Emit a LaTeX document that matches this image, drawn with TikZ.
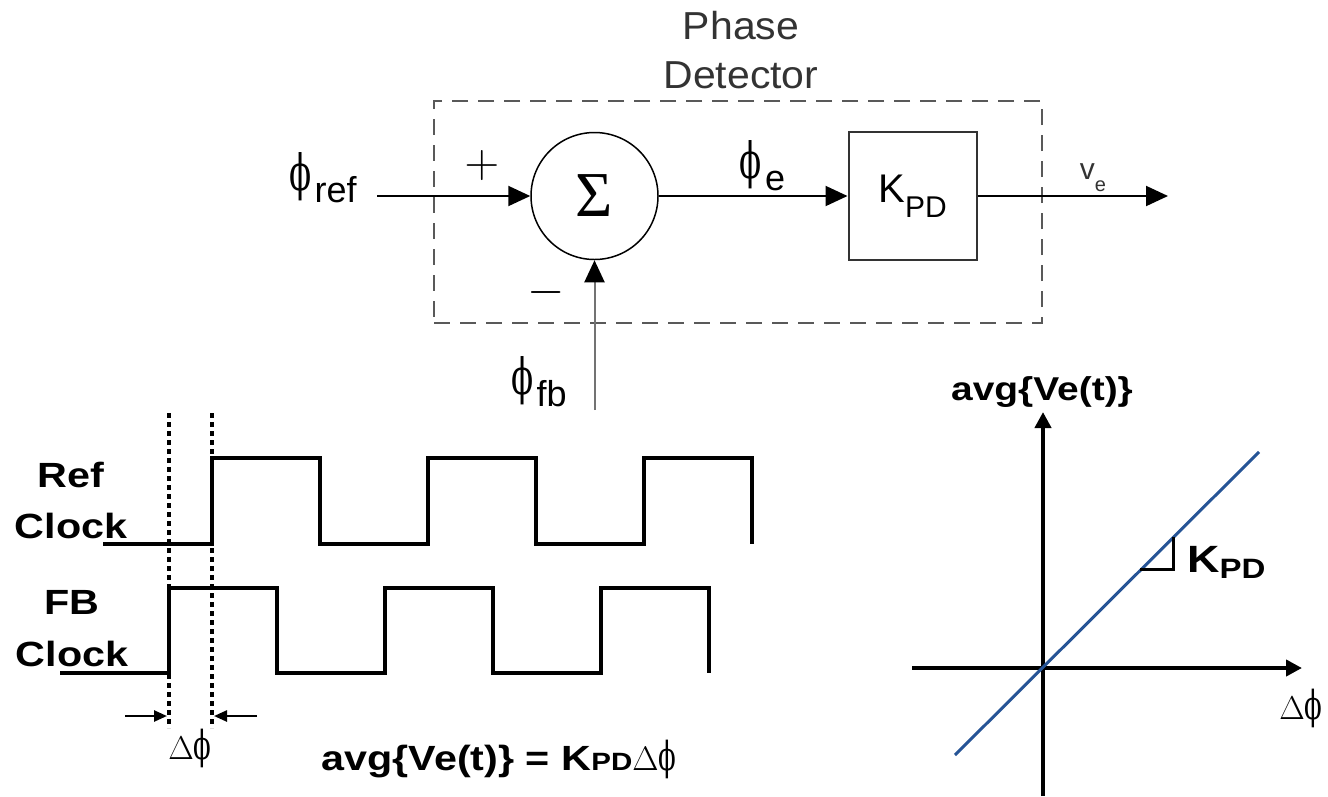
\RequirePackage{fix-cm}
\documentclass[tikz,border=0pt]{standalone}
\usepackage{fontspec}
\usepackage{amsmath}
\setmainfont{Liberation Sans}
\newfontfamily\serifsym{Liberation Serif}
\newfontfamily\phifont{DejaVu Serif}
\newfontfamily\titlesans{Liberation Sans}[FakeStretch=1.05]
\newfontfamily\widesans{Liberation Sans}[FakeStretch=1.18]
\usetikzlibrary{arrows.meta,positioning}
\definecolor{slopeblue}{RGB}{38,84,150}

\newcommand{\fsz}[1]{\fontsize{#1}{#1}\selectfont}
\newcommand{\nphi}{\scalebox{0.65}[1]{\phifont ϕ}}
\newcommand{\phisub}[1]{{\fsz{50}\nphi}\kern3pt\raisebox{-12pt}{\fsz{36}#1}}

\begin{document}
\begin{tikzpicture}[x=1pt, y=-1pt,
    sig/.style={line width=2pt, -{Triangle[length=22pt,width=20pt]}},
    wave/.style={line width=4pt},
    dotline/.style={line width=3.5pt, dash pattern=on 5pt off 4pt},
    axis/.style={line width=4pt, -{Triangle[length=16pt,width=16pt]}},
    tag/.style={inner sep=0pt},
    boldtxt/.style={inner sep=0pt, font=\widesans\bfseries\fsz{33}}
]
    \useasboundingbox (0,0) rectangle (1328,796);

    % Phase detector block
    \node[draw=black!65, line width=2pt, dash pattern=on 16pt off 10pt,
          minimum width=608pt, minimum height=222pt] (pdbox) at (738,212) {};
    \node[tag, align=center, text=black!80, anchor=north,
          font=\titlesans\fontsize{39}{49}\selectfont] (pdtitle) at (741,11) {Phase\\Detector};
    \node[circle, draw, line width=1.5pt, minimum size=127pt, inner sep=0pt,
          font=\serifsym\fsz{64}] (sum) at (594.5,196) {Σ};
    \node[draw=black!80, line width=2pt, minimum size=128pt, inner sep=0pt]
          (kpd) at (912.5,196) {\fsz{40}K\raisebox{-15pt}{\fsz{30}PD}};

    % signals in and out
    \coordinate (refin) at (377,196);
    \coordinate (fbin) at (594.5,410);
    \coordinate (veout) at (1168,196);
    \draw[sig] (refin) -- (sum);
    \draw[sig, draw=black!55, -{Triangle[length=22pt,width=20pt,black]}] (fbin) -- (sum);
    \draw[sig] (sum) -- (kpd);
    \draw[sig] (kpd) -- (veout);

    \node[tag] (phiref) at (323,177.5) {\phisub{ref}};
    \node[tag] (phie) at (762.5,165.5) {\phisub{e}};
    \node[tag] (phifb) at (539,381.5) {\phisub{fb}};
    \node[tag, text=black!80] (ve) at (1093,178) {\fsz{30}v\raisebox{-12pt}{\fsz{20}e}};
    \node[tag, font=\fsz{48}] (plus) at (482,165) {$+$};
    \node[tag, font=\fsz{48}] (minus) at (546,292) {$-$};

    % Clock waveforms
    \draw[wave] (103,544) -| (212,458) -| (320,544) -| (428,458) -| (536,544) -| (644,458) -| (752,544);
    \draw[wave] (60,673) -| (169,588) -| (277,673) -| (385,588) -| (493,673) -| (601,588) -| (709,673);
    \foreach \x in {169,212} \draw[dotline] (\x,413) -- (\x,728);

    \node[boldtxt, align=center, anchor=north, font=\widesans\bfseries\fontsize{35}{51}\selectfont]
          (refclk) at (71,462) {Ref\\Clock};
    \node[boldtxt, align=center, anchor=north, font=\widesans\bfseries\fontsize{35}{52}\selectfont]
          (fbclk) at (72,590) {FB\\Clock};

    % phase difference
    \coordinate (dla) at (125,716);
    \coordinate (dlb) at (167,716);
    \coordinate (dra) at (257,716);
    \coordinate (drb) at (214,716);
    \draw[line width=2.5pt, -{Triangle[length=13pt,width=11pt]}] (dla) -- (dlb);
    \draw[line width=2.5pt, -{Triangle[length=13pt,width=11pt]}] (dra) -- (drb);
    \node[tag] (dphi) at (190,748) {\fsz{33}$\Delta$\fsz{40}\nphi};

    \node[boldtxt, anchor=base, font=\widesans\bfseries\fsz{35}] (avgeq) at (499,770)
          {avg\{Ve(t)\} = K{\fsz{25}PD}{\normalfont\fsz{34}$\Delta$\fsz{40}\nphi}};

    % Transfer characteristic
    \coordinate (ybot) at (1043,796);
    \coordinate (ytop) at (1043,412);
    \coordinate (xleft) at (912,668);
    \coordinate (xright) at (1302,668);
    \draw[axis] (ybot) -- (ytop);
    \draw[axis] (xleft) -- (xright);
    \draw[slopeblue, line width=3pt] (955,755) -- (1259,452);
    \draw[line width=3pt] (1140,569) -| (1173,537);

    \node[boldtxt, anchor=base] (yname) at (1042,400) {avg\{Ve(t)\}};
    \node[tag, anchor=base west, font=\widesans\bfseries\fsz{38}] (kslope) at (1187,572)
          {K\raisebox{-6pt}{\fsz{28}PD}};
    \node[tag] (xname) at (1301,708) {\fsz{33}$\Delta$\fsz{40}\nphi};
\end{tikzpicture}
\end{document}
